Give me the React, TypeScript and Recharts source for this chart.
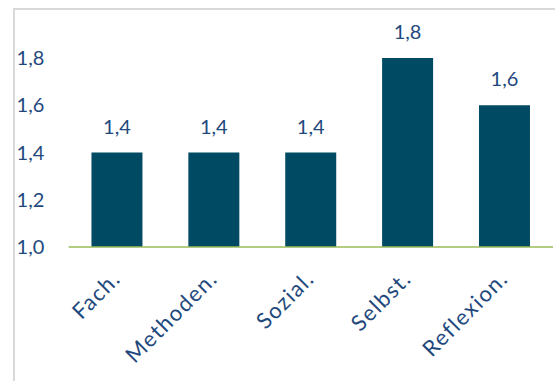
import { BarChart, Bar, XAxis, YAxis, LabelList } from "recharts";

const categories = ["Fach.", "Methoden.", "Sozial.", "Selbst.", "Reflexion."];
const values = [1.4, 1.4, 1.4, 1.8, 1.6];
const yTicks = [1.0, 1.2, 1.4, 1.6, 1.8];

const data = categories.map((name, i) => ({ name, value: values[i] }));

const TEXT = "#1f497d";
const FONT = "Lato, 'Noto Sans', sans-serif";
const fmt = (v: number) => v.toFixed(1).replace(".", ",");

const YTick = (props: any) => {
  const { x, y, payload } = props;
  return (
    <text x={x - 44} y={y} dy={7} textAnchor="start" fill={TEXT} fontSize={20} fontFamily={FONT}>
      {fmt(payload.value)}
    </text>
  );
};

const XTick = (props: any) => {
  const { x, y, payload } = props;
  const tx = x + 5;
  const ty = y + 25;
  return (
    <text
      x={tx}
      y={ty}
      textAnchor="end"
      transform={`rotate(-45, ${tx}, ${ty})`}
      fill={TEXT}
      fontSize={22}
      letterSpacing={1.5}
      fontFamily={FONT}
    >
      {payload.value}
    </text>
  );
};

export default function App() {
  return (
    <div style={{ position: "fixed", left: 0, top: 0, width: 555, height: 381, background: "#fff" }}>
      <div
        style={{
          position: "absolute",
          left: 13,
          top: 8,
          right: 0,
          bottom: 0,
          borderTop: "2px solid #d9d9d9",
          borderLeft: "2px solid #d9d9d9",
        }}
      />
      <div style={{ position: "absolute", left: 0, top: 0 }}>
        <BarChart width={555} height={381} data={data} margin={{ top: 58, right: 2, left: 0, bottom: 34 }} barCategoryGap="23.6%">
          <XAxis
            dataKey="name"
            interval={0}
            height={100}
            tickLine={false}
            axisLine={{ stroke: "#9bbb59", strokeWidth: 1.5 }}
            tick={<XTick />}
          />
          <YAxis
            domain={[1, 1.8]}
            ticks={yTicks}
            allowDataOverflow
            width={68.6}
            axisLine={false}
            tickLine={false}
            tick={<YTick />}
          />
          <Bar dataKey="value" fill="#014a63" isAnimationActive={false}>
            <LabelList
              dataKey="value"
              position="top"
              offset={19}
              formatter={(v: any) => fmt(Number(v))}
              fill={TEXT}
              fontSize={20}
              fontFamily={FONT}
            />
          </Bar>
        </BarChart>
      </div>
    </div>
  );
}
